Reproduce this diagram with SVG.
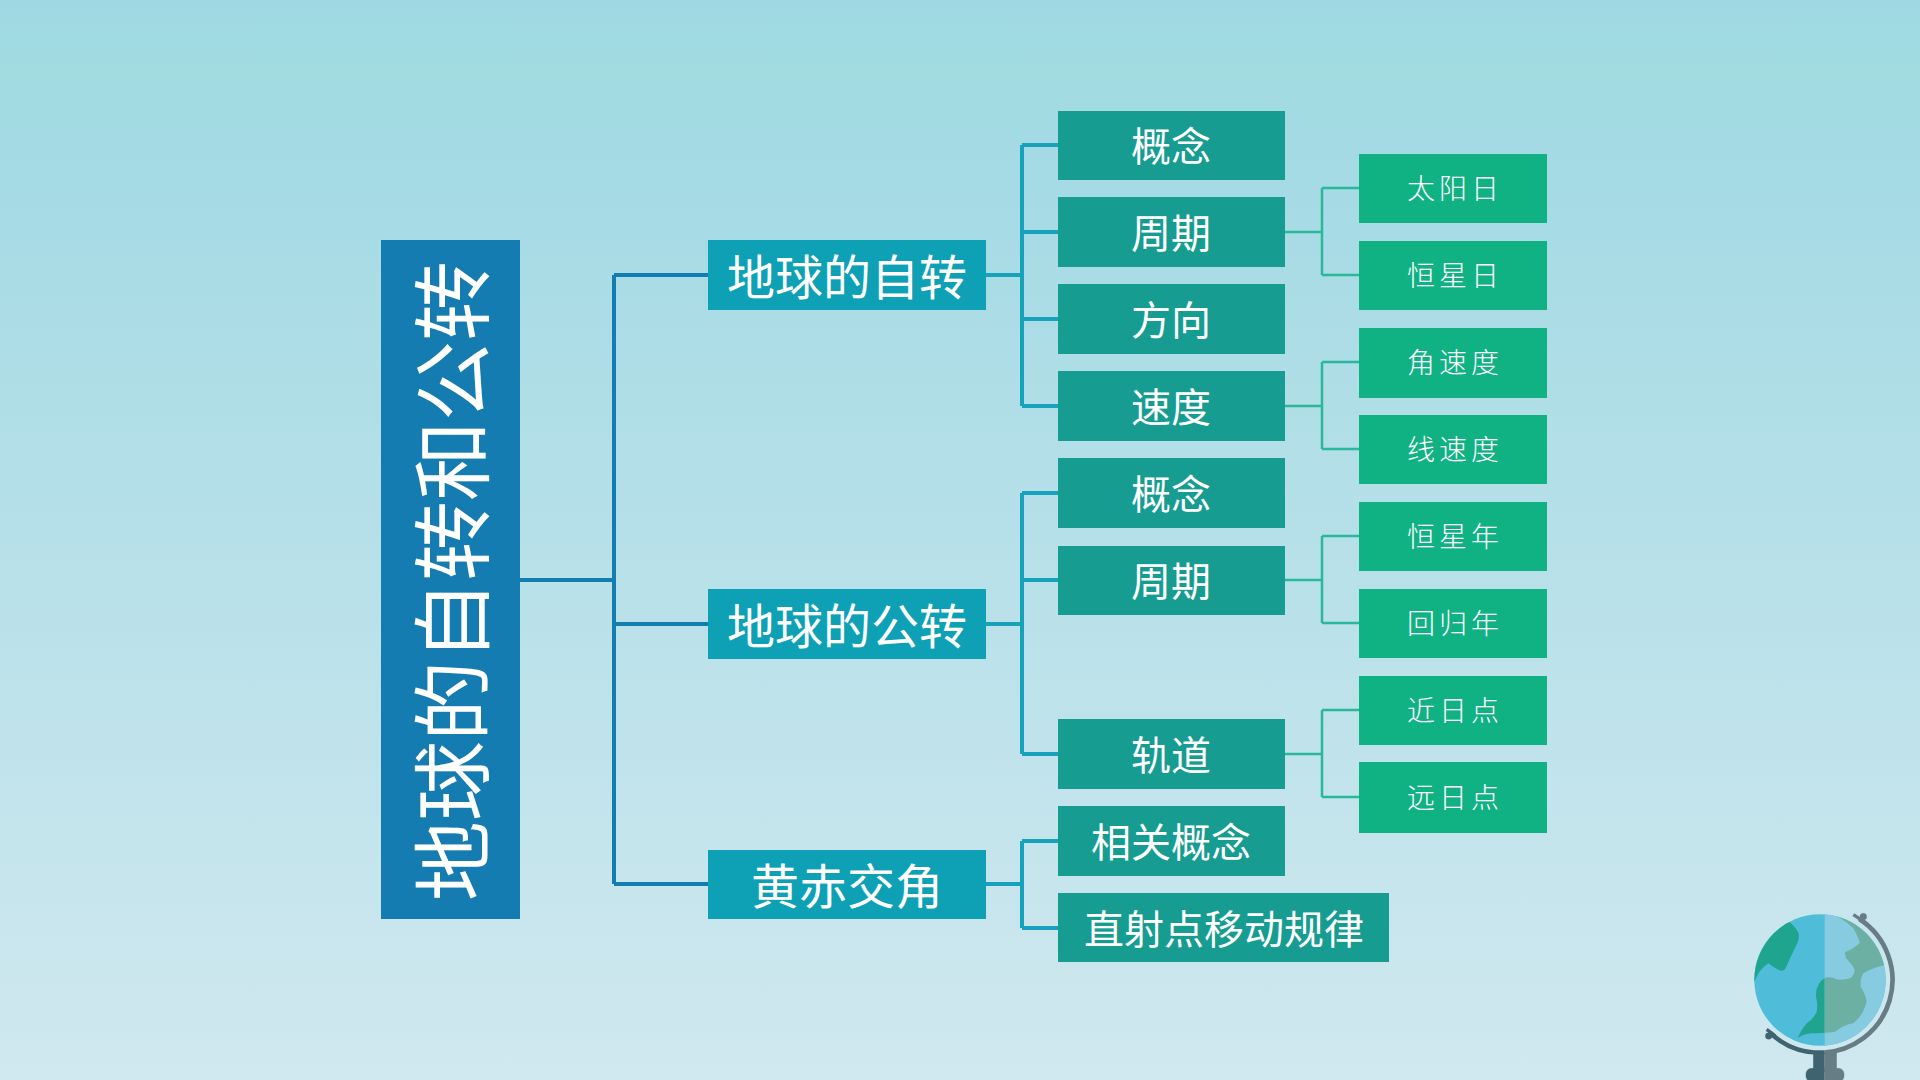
<svg xmlns="http://www.w3.org/2000/svg" width="1920" height="1080" viewBox="0 0 1920 1080">
  <defs>
    <linearGradient id="bg" x1="0" y1="0" x2="0" y2="1">
      <stop offset="0" stop-color="#9fd8e3"/>
      <stop offset="0.07" stop-color="#a2dce1"/>
      <stop offset="0.13" stop-color="#a3dae4"/>
      <stop offset="1" stop-color="#d0e8ef"/>
    </linearGradient>
    <clipPath id="globe-disc"><circle cx="300" cy="270" r="197"/></clipPath>
    <clipPath id="left-half"><rect x="0" y="0" width="314" height="570"/></clipPath>
    <clipPath id="right-half"><rect x="314" y="0" width="286" height="570"/></clipPath>
    <path id="land" d="M208 96Q228 112 236 130Q238 146 232 160Q212 200 196 236Q190 246 176 240Q160 232 145 220Q130 230 118 245L100 280L90 200L150 110Z M350 78Q380 95 400 115Q412 135 420 158Q398 178 376 186Q372 200 385 212Q400 226 404 240Q402 258 390 265Q368 272 350 268Q335 260 322 262Q302 268 295 285Q286 300 288 320Q294 345 290 365Q280 388 260 400Q244 420 232 444Q250 432 275 430Q310 430 345 425Q372 404 400 400Q430 375 440 335Q436 310 422 290Q420 265 430 250Q460 232 495 225L480 150L420 90Z"/>
    <g id="stand">
      <path d="M150 428A218 218 0 0 0 300 488A218 218 0 0 0 418 87" fill="none" stroke-width="14" stroke="inherit"/>
      <path d="M140 418L166 438M400 74L436 98" stroke-width="10" fill="none" stroke="inherit"/>
      <circle cx="146" cy="438" r="10"/>
      <circle cx="430" cy="80" r="10"/>
      <rect x="280" y="486" width="70" height="60"/>
      <rect x="258" y="535" width="114" height="40" rx="16"/>
    </g>
  </defs>
  <style>
    text { font-family: "Noto Sans CJK SC", "Noto Sans", sans-serif; fill: #ffffff; text-anchor: middle; dominant-baseline: central; }
    .root { fill: #147cb0; }
    .l2 { fill: #0ea1b5; }
    .l3 { fill: #169c90; }
    .l4 { fill: #10b283; }
    .t1 { font-size: 80px; }
    .t2 { font-size: 48px; }
    .t3 { font-size: 40px; }
    .t4 { font-size: 28px; letter-spacing: 4px; font-weight: 300; }
    .c1, .c2, .c3 { fill: none; }
    .c1 { stroke: #127db1; stroke-width: 4; }
    .c2 { stroke: #15a2ba; stroke-width: 4; }
    .c3 { stroke: #2ab89c; stroke-width: 2.5; }
  </style>
  <rect width="1920" height="1080" fill="url(#bg)"/>

  <g id="connectors">
    <path class="c1" d="M520 580H614M614 275V884M614 275H708M614 624H708M614 884H708"/>
    <path class="c2" d="M986 275H1022M1022 145V406M1022 145H1058M1022 232H1058M1022 319H1058M1022 406H1058"/>
    <path class="c2" d="M986 624H1022M1022 493V754M1022 493H1058M1022 580H1058M1022 754H1058"/>
    <path class="c2" d="M986 884H1022M1022 841V928M1022 841H1058M1022 928H1058"/>
    <path class="c3" d="M1285 232H1322M1322 188V275M1322 188H1359M1322 275H1359"/>
    <path class="c3" d="M1285 406H1322M1322 362V449M1322 362H1359M1322 449H1359"/>
    <path class="c3" d="M1285 580H1322M1322 536V623M1322 536H1359M1322 623H1359"/>
    <path class="c3" d="M1285 754H1322M1322 710V797M1322 710H1359M1322 797H1359"/>
  </g>

  <g id="root"><rect class="root" x="381" y="240" width="139" height="679"/><text class="t1" transform="translate(447 581) rotate(-90)">地球的自转和公转</text></g>

  <g id="rotation"><rect class="l2" x="708" y="240" width="278" height="70"/><text class="t2" x="847" y="274">地球的自转</text></g>
  <g id="revolution"><rect class="l2" x="708" y="589" width="278" height="70"/><text class="t2" x="847" y="623">地球的公转</text></g>
  <g id="obliquity"><rect class="l2" x="708" y="850" width="278" height="69"/><text class="t2" x="847" y="883">黄赤交角</text></g>

  <g id="rot-concept"><rect class="l3" x="1058" y="111" width="227" height="69"/><text class="t3" x="1171" y="144">概念</text></g>
  <g id="rot-period"><rect class="l3" x="1058" y="197" width="227" height="70"/><text class="t3" x="1171" y="231">周期</text></g>
  <g id="rot-direction"><rect class="l3" x="1058" y="284" width="227" height="70"/><text class="t3" x="1171" y="318">方向</text></g>
  <g id="rot-speed"><rect class="l3" x="1058" y="371" width="227" height="70"/><text class="t3" x="1171" y="405">速度</text></g>
  <g id="rev-concept"><rect class="l3" x="1058" y="458" width="227" height="70"/><text class="t3" x="1171" y="492">概念</text></g>
  <g id="rev-period"><rect class="l3" x="1058" y="546" width="227" height="69"/><text class="t3" x="1171" y="579">周期</text></g>
  <g id="rev-orbit"><rect class="l3" x="1058" y="719" width="227" height="70"/><text class="t3" x="1171" y="753">轨道</text></g>
  <g id="obl-concepts"><rect class="l3" x="1058" y="806" width="227" height="70"/><text class="t3" x="1171" y="840">相关概念</text></g>
  <g id="obl-subsolar"><rect class="l3" x="1058" y="893" width="331" height="69"/><text class="t3" x="1224" y="927">直射点移动规律</text></g>

  <g id="solar-day"><rect class="l4" x="1359" y="154" width="188" height="69"/><text class="t4" x="1455" y="187">太阳日</text></g>
  <g id="sidereal-day"><rect class="l4" x="1359" y="241" width="188" height="69"/><text class="t4" x="1455" y="274">恒星日</text></g>
  <g id="angular-speed"><rect class="l4" x="1359" y="328" width="188" height="70"/><text class="t4" x="1455" y="361">角速度</text></g>
  <g id="linear-speed"><rect class="l4" x="1359" y="415" width="188" height="69"/><text class="t4" x="1455" y="448">线速度</text></g>
  <g id="sidereal-year"><rect class="l4" x="1359" y="502" width="188" height="69"/><text class="t4" x="1455" y="535">恒星年</text></g>
  <g id="tropical-year"><rect class="l4" x="1359" y="589" width="188" height="69"/><text class="t4" x="1455" y="622">回归年</text></g>
  <g id="perihelion"><rect class="l4" x="1359" y="676" width="188" height="69"/><text class="t4" x="1455" y="709">近日点</text></g>
  <g id="aphelion"><rect class="l4" x="1359" y="762" width="188" height="71"/><text class="t4" x="1455" y="796">远日点</text></g>

  <!-- desk globe on a 3x grid: darker left half, lighter right half -->
  <g id="globe" transform="translate(1720 890) scale(0.33333)">
    <g clip-path="url(#left-half)" fill="#3f6470" stroke="#3f6470"><use href="#stand"/></g>
    <g clip-path="url(#right-half)" fill="#677d85" stroke="#677d85"><use href="#stand"/></g>
    <circle cx="300" cy="270" r="197" fill="#4fbcd9"/>
    <g clip-path="url(#right-half)"><circle cx="300" cy="270" r="197" fill="#86cbe0"/></g>
    <g clip-path="url(#globe-disc)">
      <g clip-path="url(#left-half)"><use href="#land" fill="#1fa58f"/></g>
      <g clip-path="url(#right-half)"><use href="#land" fill="#6cb0a3"/></g>
    </g>
  </g>
</svg>
